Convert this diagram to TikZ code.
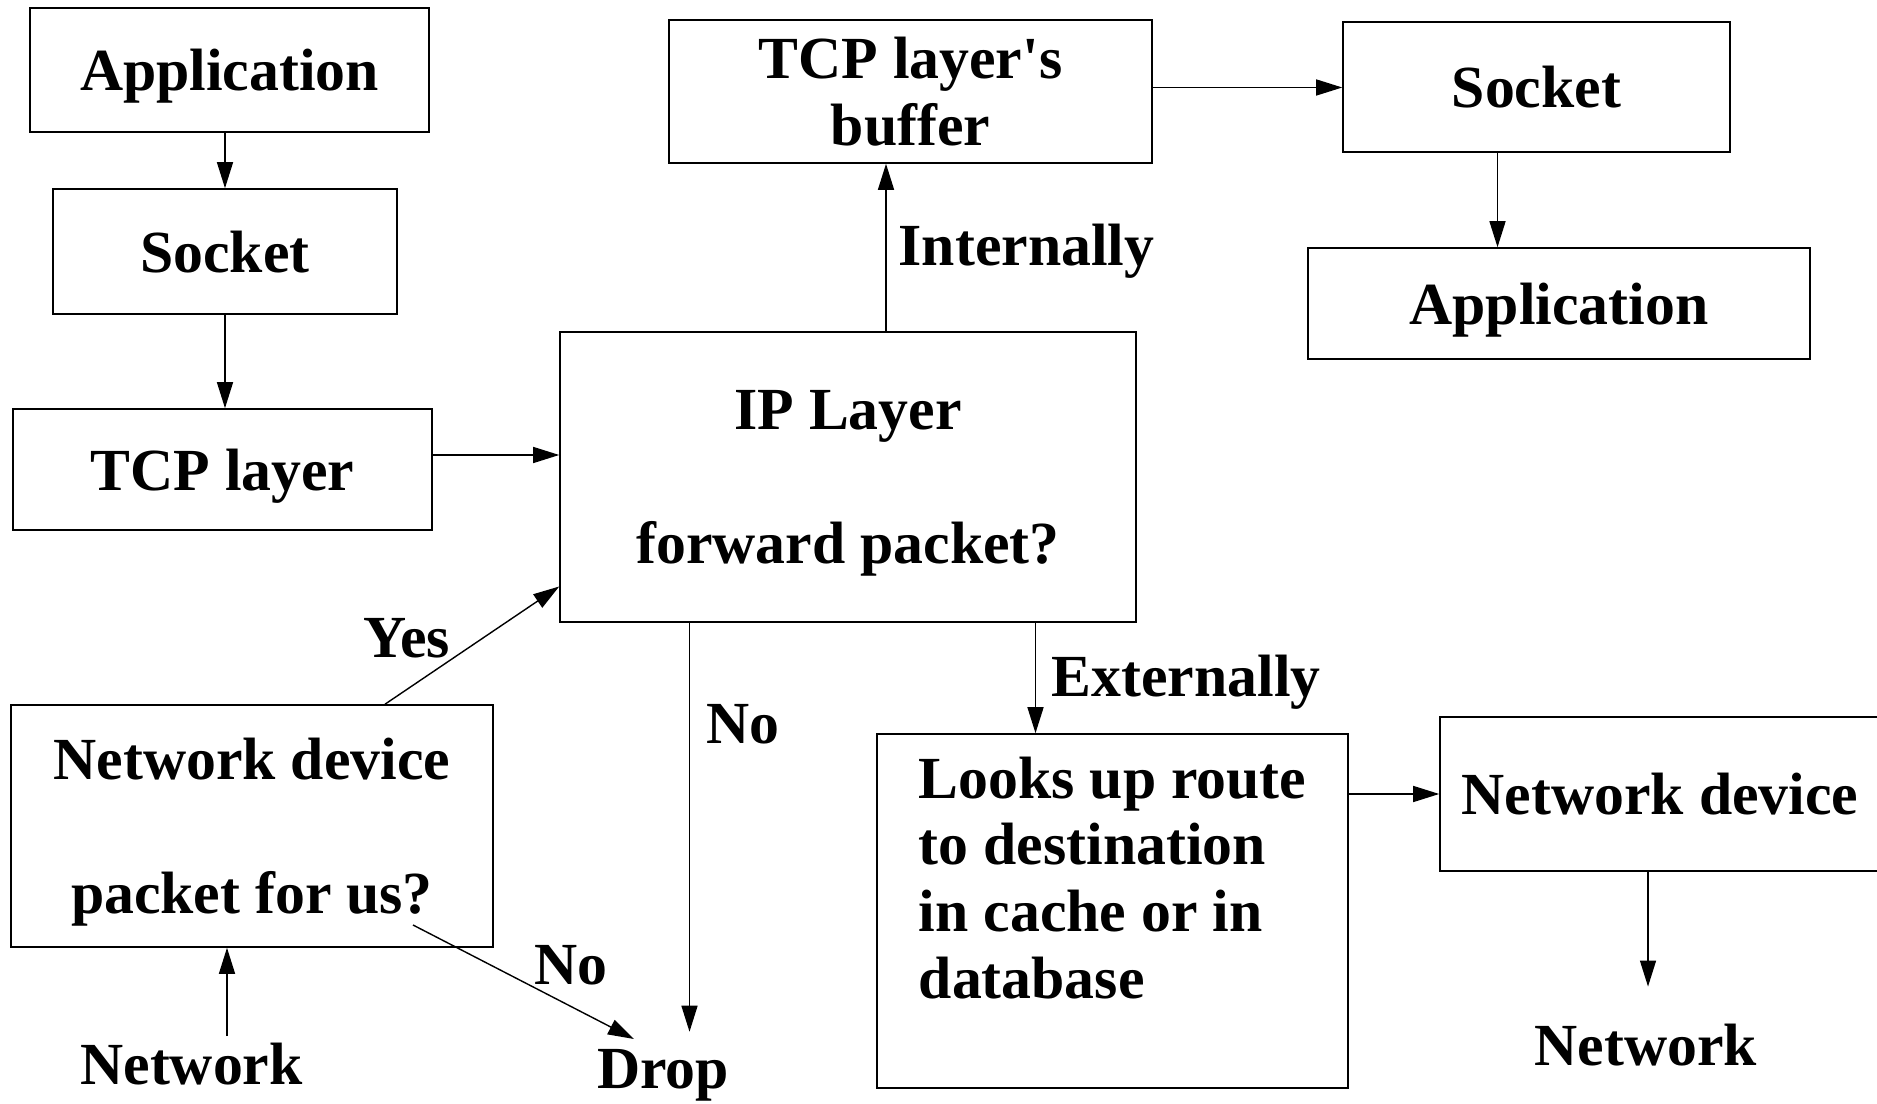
\documentclass[tikz,border=0pt]{standalone}
\usepackage{fontspec}
\newfontfamily\figfont{Liberation Serif}[Ligatures=TeXOff]
\usetikzlibrary{arrows.meta}

\begin{document}
\begin{tikzpicture}[
            box/.style={draw, rectangle, inner sep=0pt, text depth=0pt, line width=0.45pt, align=center, font=\figfont\bfseries\fontsize{17}{19}\selectfont},
            lbl/.style={inner sep=0pt, text depth=0pt, font=\figfont\bfseries\fontsize{17}{19}\selectfont},
            arr/.style={-{Triangle[length=2.6mm,width=1.6mm]}, line width=0.4pt}]

            \useasboundingbox (0,0) rectangle (18.77,-11.04);

            % sending side
            \node[box, minimum width=3.99cm, minimum height=1.24cm] (app1) at (2.295,-0.70) {Application};
            \node[box, minimum width=3.44cm, minimum height=1.25cm] (sock1) at (2.25,-2.515) {Socket};
            \node[box, minimum width=4.19cm, minimum height=1.21cm] (tcp) at (2.225,-4.695) {TCP layer};

            % IP layer
            \node[box, minimum width=5.76cm, minimum height=2.90cm] (ip) at (8.48,-4.77) {IP Layer\\[19pt]forward packet?};

            % receiving side
            \node[box, minimum width=4.83cm, minimum height=1.43cm] (buf) at (9.105,-0.915) {TCP layer's\\buffer};
            \node[box, minimum width=3.87cm, minimum height=1.30cm] (sock2) at (15.365,-0.87) {Socket};
            \node[box, minimum width=5.02cm, minimum height=1.11cm] (app2) at (15.59,-3.035) {Application};

            % incoming device
            \node[box, minimum width=4.82cm, minimum height=2.42cm] (nd1) at (2.52,-8.26) {Network device\\[19pt]packet for us?};
            \node[lbl] (net1) at (1.915,-10.64) {Network};
            \node[lbl] (drop) at (6.63,-10.69) {Drop};

            % outgoing route
            \node[box, minimum width=4.71cm, minimum height=3.54cm, align=left] (look) at (11.125,-9.11) {Looks up route\\to destination\\in cache or in\\database\\\mbox{}};
            \node[box, minimum width=4.40cm, minimum height=1.54cm] (nd2) at (16.60,-7.94) {Network device};
            \node[lbl] (net2) at (16.46,-10.45) {Network};

            % labels
            \node[lbl, anchor=west] (intl) at (8.98,-2.45) {Internally};
            \node[lbl, anchor=west] (extl) at (10.51,-6.76) {Externally};
            \node[lbl] (yes) at (4.07,-6.38) {Yes};
            \node[lbl] (no1) at (5.71,-9.65) {No};
            \node[lbl] (no2) at (7.43,-7.24) {No};

            \coordinate (net1top) at ([xshift=3.55mm,yshift=0.65mm]net1.north);
            \coordinate (net2top) at ([xshift=0.2mm,yshift=3.7mm]net2.north);
            \coordinate (droptop) at ([xshift=2.65mm,yshift=1.7mm]drop.north);
            \coordinate (dropleft) at ([shift={(-2.9mm,3.0mm)}]drop.center);

            % connections
            \draw[arr] (app1.south -| sock1.south) -- (sock1.north);
            \draw[arr] (sock1.south) -- (sock1.south |- tcp.north);
            \draw[arr] ([yshift=1.45mm]tcp.east) -- ([yshift=1.45mm]tcp.east -| ip.west);
            \draw[arr] ([xshift=3.8mm]ip.north) -- ([xshift=3.8mm]ip.north |- buf.south);
            \draw[arr] ([yshift=0.4mm]buf.east) -- ([yshift=0.4mm]buf.east -| sock2.west);
            \draw[arr] ([xshift=-3.9mm]sock2.south) -- ([xshift=-3.9mm]sock2.south |- app2.north);
            \draw[arr] ([xshift=18.75mm]ip.south) -- ([xshift=18.75mm]ip.south |- look.north);
            \draw[arr] (look.east |- nd2.west) -- (nd2.west);
            \draw[arr] (net2top |- nd2.south) -- (net2top);
            \draw[arr] (net1top) -- (net1top |- nd1.south);
            \draw[arr] ([xshift=13.3mm]nd1.north) -- ([yshift=-10.95mm]ip.west);
            \draw[arr] ([shift={(16.1mm,-9.9mm)}]nd1.center) -- (dropleft);
            \draw[arr] (droptop |- ip.south) -- (droptop);
        \end{tikzpicture}
\end{document}
